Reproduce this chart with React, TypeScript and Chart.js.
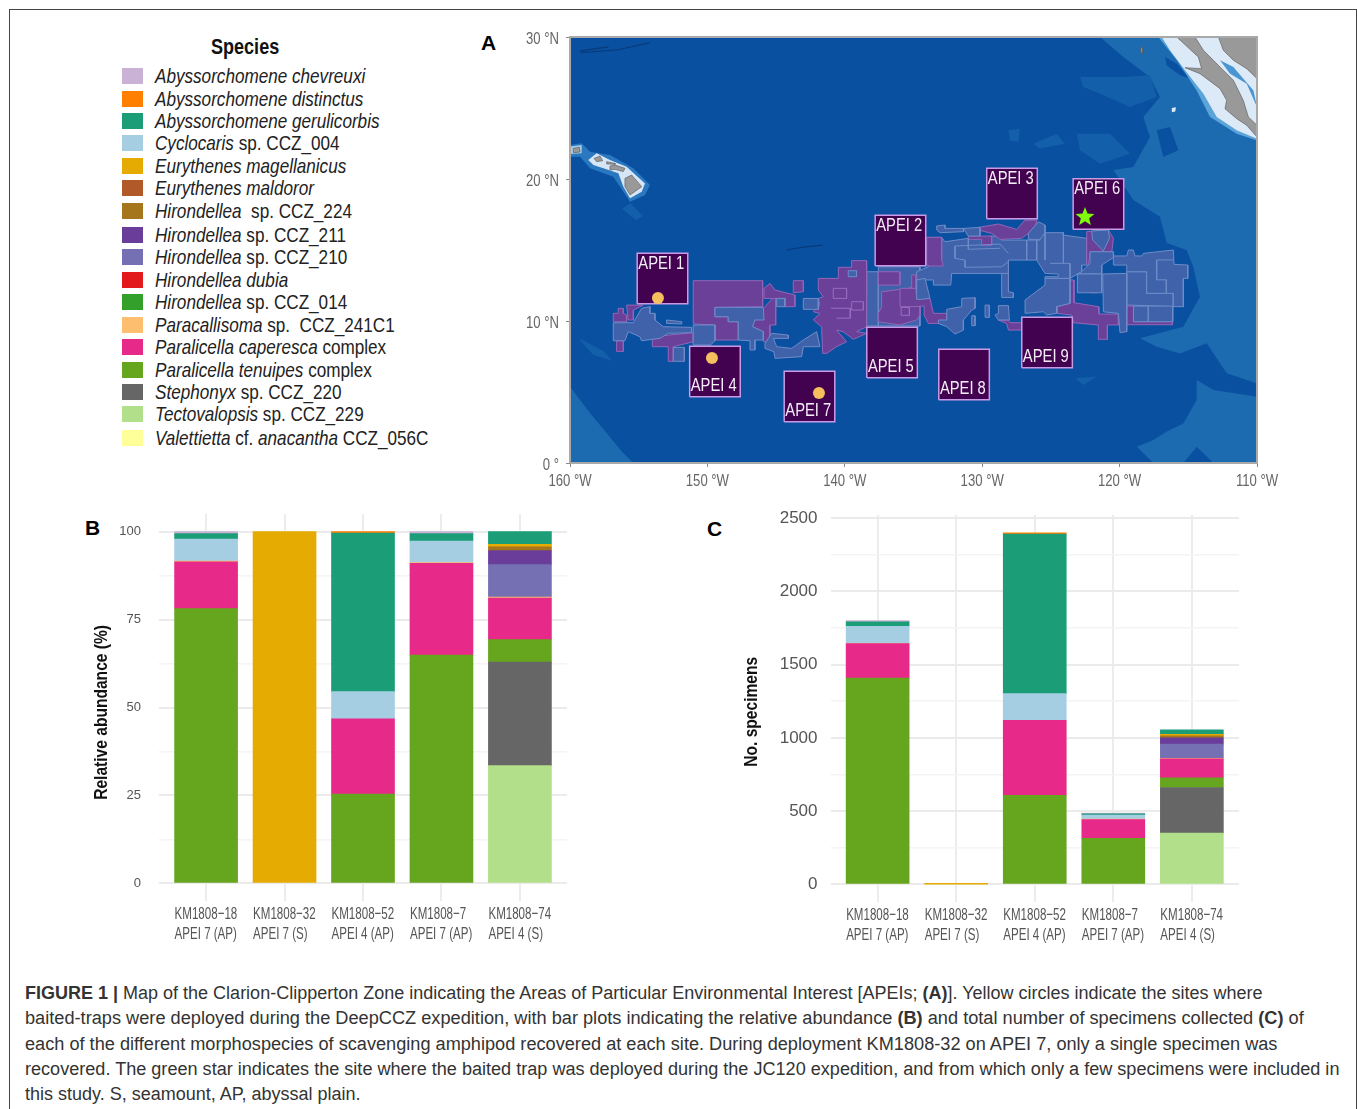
import React, { useEffect, useRef } from "react";
import { Chart, registerables } from "chart.js";

Chart.register(...registerables);

// ---------- shared text ----------
const NARROW = '"Liberation Sans Narrow", "Liberation Sans", Arial, sans-serif';
const SANS = '"Liberation Sans", Arial, sans-serif';
const NARROW_RATIO = 0.82;

const siteIds = ["KM1808\u221218", "KM1808\u221232", "KM1808\u221252", "KM1808\u22127", "KM1808\u221274"];
const siteAreas = ["APEI 7 (AP)", "APEI 7 (S)", "APEI 4 (AP)", "APEI 7 (AP)", "APEI 4 (S)"];

// ---------- bar values, one array per species, sites in order ----------
const relTecto = [0, 0, 0, 0, 33.5];
const relStephonyx = [0, 0, 0, 0, 29.4];
const relTenuipes = [78.1, 0, 25.4, 64.9, 6.4];
const relCaperesca = [13.3, 0, 21.4, 26.1, 11.8];
const relParacallisoma = [0.2, 0, 0, 0.2, 0.3];
const relH210 = [0, 0, 0, 0, 9.2];
const relH211 = [0, 0, 0, 0, 4.0];
const relH224 = [0, 0, 0, 0, 1.1];
const relMagellanicus = [0, 100, 0, 0, 0.7];
const relCyclocaris = [6.3, 0, 7.7, 6.1, 0];
const relGerulicorbis = [1.5, 0, 45.1, 2.1, 3.6];
const relDistinctus = [0, 0, 0.4, 0, 0];
const relChevreuxi = [0.6, 0, 0, 0.6, 0];

const numTecto = [0, 0, 0, 0, 350];
const numStephonyx = [0, 0, 0, 0, 311];
const numTenuipes = [1407, 0, 607, 314, 66];
const numCaperesca = [236, 0, 513, 129, 130];
const numParacallisoma = [2, 0, 0, 2, 3];
const numH210 = [0, 0, 0, 0, 97];
const numH211 = [0, 0, 0, 0, 43];
const numH224 = [0, 0, 0, 0, 14];
const numMagellanicus = [0, 1, 0, 0, 9];
const numCyclocaris = [116, 0, 182, 28, 0];
const numGerulicorbis = [30, 0, 1087, 9, 32];
const numDistinctus = [0, 0, 9, 0, 0];
const numChevreuxi = [9, 0, 0, 5, 0];

const stackColors = ["#b2df8a", "#666666", "#66a61e", "#e7298a", "#fdbf6f", "#7570b3", "#6a3d9a", "#a6761d", "#e6ab02", "#a6cee3", "#1b9e77", "#ff7f00", "#cab2d6"];
const relStack = [relTecto, relStephonyx, relTenuipes, relCaperesca, relParacallisoma, relH210, relH211, relH224, relMagellanicus, relCyclocaris, relGerulicorbis, relDistinctus, relChevreuxi];
const numStack = [numTecto, numStephonyx, numTenuipes, numCaperesca, numParacallisoma, numH210, numH211, numH224, numMagellanicus, numCyclocaris, numGerulicorbis, numDistinctus, numChevreuxi];

// ---------- legend ----------
const legendColors = ["#cab2d6", "#ff7f00", "#1b9e77", "#a6cee3", "#e6ab02", "#b15928", "#a6761d", "#6a3d9a", "#7570b3", "#e31a1c", "#33a02c", "#fdbf6f", "#e7298a", "#66a61e", "#666666", "#b2df8a", "#ffff99"];
const legendItalic = ["Abyssorchomene chevreuxi", "Abyssorchomene distinctus", "Abyssorchomene gerulicorbis", "Cyclocaris", "Eurythenes magellanicus", "Eurythenes maldoror", "Hirondellea", "Hirondellea", "Hirondellea", "Hirondellea dubia", "Hirondellea", "Paracallisoma", "Paralicella caperesca", "Paralicella tenuipes", "Stephonyx", "Tectovalopsis", "Valettietta"];
const legendPlain = ["", "", "", " sp. CCZ_004", "", "", "  sp. CCZ_224", " sp. CCZ_211", " sp. CCZ_210", "", " sp. CCZ_014", " sp.  CCZ_241C1", " complex", " complex", " sp. CCZ_220", " sp. CCZ_229", " cf. "];
const legendRowY = [76, 98.5, 121, 143, 166, 188, 211, 235, 257, 280, 302, 325, 347, 370, 392, 414, 438];

// ---------- map: lon / lat outlines ----------
type Ring = number[][];
const midBlueEast: Ring = [[-121.42, 30], [-119.73, 28.59], [-117.79, 27.18], [-117.06, 25.77], [-118.27, 24.37], [-117.79, 22.96], [-119, 20.85], [-120.45, 20.63], [-119, 18.52], [-117.06, 17.35], [-116.57, 15.5], [-115.12, 15], [-114.63, 13.8], [-114.15, 11.7], [-115.36, 9.6], [-118.51, 8.78], [-117.3, 8.19], [-115.6, 7.72], [-113.66, 8.43], [-112.2, 6.32], [-110, 5.6], [-110, 30]];
const midBlueSouthEast: Ring = [[-118.75, 1.15], [-117.54, 1.62], [-116.57, 2.21], [-115.36, 2.79], [-114.39, 4.44], [-114.39, 5.85], [-113.17, 5.14], [-110, 4.67], [-110, 0], [-113.17, 0], [-114.39, 1.15], [-115.36, 0], [-117.54, 0]];
const midBlueSouthWest: Ring = [[-160, 5.39], [-158.74, 3.75], [-156.14, 0.7], [-155.39, 0], [-157.6, 0], [-160, 0]];
const midPatches: Ring[] = [
  [[-122.88, 27.18], [-119.73, 27.18], [-117.79, 27.3], [-117.3, 25.77], [-119.24, 25.07], [-121.42, 26.01], [-122.64, 26.48]],
  [[-126.28, 22.49], [-124.58, 23.19], [-123.97, 22.49], [-125.79, 22.14]],
  [[-123.12, 23.19], [-120.7, 23.19], [-119.24, 21.78], [-121.42, 21.08], [-122.88, 22.02]],
  [[-128.1, 23.43], [-127.25, 23.54], [-127.37, 22.6], [-127.97, 22.72]],
  [[-123.24, 5.97], [-121.66, 6.09], [-122.63, 5.5]],
  [[-159.4, 8.8], [-157.6, 7.9], [-156.9, 7.2], [-158.3, 7.6]],
  [[-155.6, 18.3], [-154.7, 17.4], [-155.2, 17.1], [-156.2, 17.9]],
];
const deepPatches: Ring[] = [
  [[-117.3, 23.43], [-116.33, 23.66], [-115.72, 22.02], [-116.82, 21.55]],
  [[-116.69, 28.59], [-115.84, 28.12], [-114.87, 27.07], [-115.6, 27.3], [-116.57, 28.0]],
];
const midBlueHawaii: Ring = [[-160, 22.39], [-159.15, 22.51], [-158.54, 21.92], [-157.09, 21.69], [-155.39, 20.75], [-154.18, 19.58], [-154.54, 18.87], [-155.63, 18.4], [-156.36, 19.46], [-156.85, 20.16], [-158.54, 20.75], [-159.27, 21.57], [-160, 21.57]];
const paleHawaii: Ring = [[-158.67, 21.34], [-158.06, 21.81], [-157.09, 21.34], [-155.88, 20.87], [-154.54, 19.69], [-154.78, 19.11], [-155.63, 18.64], [-156.12, 19.46], [-156.48, 20.4], [-157.57, 20.75], [-158.3, 20.98]];
const paleKauai: Ring = [[-160, 22.28], [-159.15, 22.39], [-159.15, 21.81], [-160, 21.76]];
const landBigIsland: Ring = [[-156, 20.05], [-155.51, 20.28], [-154.78, 19.46], [-155.63, 18.87], [-156, 19.46]];
const landMaui: Ring = [[-156.72, 20.98], [-156, 20.75], [-156.12, 20.52], [-156.72, 20.68], [-157.09, 20.63], [-157.09, 20.91]];
const landMolokai: Ring = [[-157.33, 21.22], [-156.72, 21.1], [-156.72, 21.03], [-157.33, 21.06]];
const landOahu: Ring = [[-158.25, 21.45], [-157.82, 21.62], [-157.62, 21.29], [-158.06, 21.22]];
const landKauai: Ring = [[-159.76, 22.16], [-159.32, 22.23], [-159.27, 21.9], [-159.71, 21.85]];
const lightBaja: Ring = [[-117.18, 30], [-115.84, 28.36], [-114.39, 26.24], [-113.42, 24.37], [-111.48, 23.19], [-110, 22.72], [-110, 30]];
const paleBaja: Ring = [[-116.94, 30], [-116.33, 29.06], [-115.24, 27.65], [-113.9, 26], [-112.93, 24.37], [-111.48, 23.43], [-110, 22.84], [-110, 30]];
const gulfBlue: Ring = [[-112.69, 28.36], [-111.72, 27.89], [-110.26, 26.24], [-110, 25.07], [-110.75, 26.71], [-111.96, 27.42]];
const landBaja: Ring = [[-115.84, 30], [-114.27, 28.59], [-114.03, 27.77], [-115.24, 27.84], [-114.15, 27.42], [-112.69, 26.36], [-112.21, 25.54], [-112.33, 24.95], [-111.48, 24.25], [-110.75, 23.78], [-110, 22.96], [-110, 23.78], [-110.63, 24.37], [-111, 25.54], [-111.72, 26.95], [-112.69, 27.89], [-113.9, 29.06], [-114.51, 30]];
const landMexico: Ring = [[-112.81, 30], [-110, 30], [-110, 27.07], [-110.75, 27.77], [-111.72, 28.36], [-112.45, 29.06]];
const isletNorth: Ring = [[-118.45, 29.3], [-118.3, 29.25], [-118.3, 28.85], [-118.45, 28.9]];
const isletSouth: Ring = [[-116.2, 25], [-115.9, 25.05], [-115.95, 24.75], [-116.2, 24.7]];

const purpleAreas: Ring[] = [
  [[-151.03, 12.84], [-145.98, 12.84], [-145.98, 11.01], [-149.45, 10.96], [-149.45, 10.3], [-148.48, 10.3], [-148.48, 9.95], [-147.75, 9.95], [-147.75, 8.66], [-149.45, 8.66], [-149.45, 9.72], [-151.03, 9.79]],
  [[-146.71, 9.95], [-145.81, 11.01], [-145.03, 11.83], [-145.03, 9.72], [-145.45, 9.72], [-145.45, 8.54], [-145.93, 8.54], [-145.93, 9.25], [-146.71, 9.6]],
  [[-145.88, 12.3], [-145.45, 12.65], [-145.08, 12.18], [-144.6, 12.06], [-143.63, 11.83], [-143.63, 11.01], [-144.36, 11.01], [-144.36, 11.59], [-145.81, 11.59]],
  [[-154.01, 8.89], [-151.03, 9.18], [-151.03, 8.54], [-152.48, 8.19], [-152.48, 7.16], [-152.85, 7.16], [-152.85, 8.19], [-154.01, 8.19]],
  [[-156.85, 10.54], [-156.49, 10.54], [-156.49, 10.89], [-156.12, 10.89], [-156.12, 10.54], [-155.88, 10.42], [-155.88, 9.95], [-156.85, 9.95]],
  [[-155.88, 11.12], [-154.67, 11.12], [-155.39, 10.77], [-155.39, 10.07], [-155.76, 10.07]],
  [[-156.61, 8.61], [-156.12, 8.61], [-156.12, 7.86], [-156.61, 7.86]],
  [[-143.75, 12.84], [-143.02, 12.84], [-143.02, 12.06], [-143.75, 11.99]],
  [[-141.93, 13.0], [-140.47, 13.0], [-140.47, 13.78], [-139.5, 13.78], [-139.5, 14.25], [-138.41, 14.25], [-138.41, 9.6], [-139.14, 9.25], [-138.41, 9.13], [-139.38, 8.71], [-140.11, 9.25], [-140.6, 9.36], [-139.87, 8.54], [-140.6, 8.19], [-141.32, 7.72], [-141.61, 7.72], [-141.69, 9.6], [-142.29, 10.07], [-141.81, 10.54], [-142.29, 10.65], [-141.81, 11.12], [-141.93, 11.59], [-141.57, 11.71], [-141.93, 12.18]],
  [[-137.56, 13.47], [-135.99, 13.47], [-135.99, 12.53], [-137.56, 12.53]],
  [[-137.32, 12.06], [-135.38, 12.3], [-134.89, 12.53], [-134.53, 12.18], [-134.53, 10.42], [-134.77, 10.07], [-135.99, 9.72], [-137.56, 9.95], [-137.56, 10.54], [-137.32, 11.01]],
  [[-135.98, 12.3], [-134.82, 12.3], [-134.77, 11.59], [-133.8, 11.59], [-133.55, 10.54], [-132.58, 10.54], [-132.58, 9.83], [-133.92, 9.83], [-134.23, 10.42], [-134.23, 11.05], [-135.01, 11.01], [-135.98, 11.01]],
  [[-135.13, 13.24], [-134.82, 13.24], [-134.82, 12.3], [-135.13, 12.3]],
  [[-130.28, 16.59], [-128.82, 16.83], [-127.49, 16.45], [-126.88, 17.11], [-126.03, 17.11], [-126.15, 16.52], [-127.13, 15.82], [-128.7, 15.75], [-129.31, 16.17], [-130.28, 16.41]],
  [[-131.01, 15.98], [-129.31, 15.98], [-129.31, 15.33], [-130.04, 15.33], [-130.04, 15.75], [-131.01, 15.75]],
  [[-122.39, 16.29], [-120.82, 16.41], [-120.45, 15.82], [-120.57, 14.88], [-122.15, 14.88], [-122.27, 13.94], [-122.39, 13.94]],
  [[-123, 12.84], [-122.15, 12.84], [-121.67, 12.53], [-121.67, 11.99], [-122.15, 11.99], [-122.15, 12.53], [-123, 12.53]],
  [[-123.61, 12.89], [-123.32, 12.89], [-123.32, 11.29], [-121.55, 11.01], [-121.5, 10.49], [-120.09, 10.49], [-120.09, 9.72], [-120.89, 9.72], [-120.89, 8.71], [-121.5, 8.71], [-121.55, 9.72], [-123.36, 9.88], [-123.49, 10.42], [-124.53, 10.54], [-124.53, 11.01], [-123.61, 11.24]],
  [[-119.48, 11.05], [-118.99, 11.05], [-118.99, 9.95], [-116.16, 9.95], [-116.16, 9.74], [-119.48, 9.74]],
  [[-134.04, 15.89], [-132.95, 15.89], [-132.95, 14.29], [-132.83, 13.87], [-133.8, 13.87], [-134.04, 13.94]],
  [[-128.82, 10.07], [-128.09, 10.07], [-127.97, 9.88], [-127.13, 9.88], [-127.13, 9.36], [-128.09, 9.36], [-128.22, 9.83]],
];

const blueUnderPurple: Ring[] = [
  [[-137.56, 13.82], [-134.53, 13.82], [-134.53, 9.65], [-137.56, 9.65]],
  [[-138.41, 13.47], [-137.56, 13.47], [-137.56, 9.65], [-138.65, 9.65], [-138.41, 11.71]],
  [[-134.04, 15.89], [-132.95, 15.89], [-132.71, 15.58], [-131.01, 15.82], [-129.31, 15.98], [-128.58, 15.98], [-128.58, 15.7], [-125.79, 15.7], [-125.79, 16.22], [-124.09, 16.22], [-124.09, 16.05], [-122.39, 15.82], [-122.39, 13.94], [-122.76, 13.94], [-122.76, 13.47], [-123.61, 13], [-125.43, 13], [-125.43, 13.12], [-124.46, 13.12], [-124.46, 13.31], [-125.43, 13.35], [-126.03, 14.29], [-128.09, 14.29], [-128.09, 13.35], [-132.22, 13.35], [-132.29, 12.53], [-133.55, 12.53], [-133.55, 12.89], [-134.77, 12.89], [-134.77, 13.47], [-133.92, 13.82]],
  [[-119.48, 13.47], [-118.03, 13.47], [-118.03, 11.95], [-116.09, 11.95], [-116.09, 11.01], [-119.48, 11.13]],
];

const blueAreas: Ring[] = [
  [[-122.03, 16.34], [-120.82, 16.41], [-120.74, 15.82], [-121.18, 14.93], [-121.96, 15.7]],
  [[-149.45, 10.96], [-145.93, 10.96], [-145.88, 10.07], [-146.54, 10.07], [-146.71, 9.6], [-145.93, 9.25], [-145.93, 8.66], [-146.54, 8.66], [-146.54, 7.96], [-146.9, 7.96], [-146.9, 8.61], [-147.75, 8.66], [-147.75, 9.95], [-148.48, 9.95], [-148.48, 10.3], [-149.45, 10.3]],
  [[-151.03, 9.72], [-149.45, 9.72], [-149.45, 8.61], [-149.77, 8.31], [-151.03, 8.31]],
  [[-152.48, 8.14], [-151.68, 8.14], [-151.68, 7.16], [-152.48, 7.16]],
  [[-156.85, 9.88], [-155.39, 9.88], [-154.79, 10.89], [-154.18, 11.01], [-154.18, 10.54], [-153.82, 10.54], [-153.82, 10.07], [-153.21, 9.6], [-151.15, 9.55], [-151.15, 9.18], [-152.85, 9.13], [-153.45, 8.78], [-154.79, 8.61], [-154.91, 8.89], [-155.76, 9.25], [-156, 8.61], [-156.85, 8.61]],
  [[-152.97, 10.07], [-151.88, 9.95], [-151.88, 9.79], [-152.97, 9.83]],
  [[-144.96, 11.59], [-144.36, 11.59], [-144.36, 11.01], [-144.96, 11.01]],
  [[-145.81, 8.43], [-145.33, 9.13], [-144.11, 9.01], [-144.11, 8.78], [-145.2, 8.78], [-144.96, 8.19], [-143.87, 8.07], [-143.02, 8.66], [-142.05, 9.25], [-141.81, 8.19], [-143.02, 8.19], [-143.14, 7.49], [-145.08, 7.37], [-145.16, 7.84], [-145.81, 8.07]],
  [[-143.02, 11.59], [-141.93, 11.59], [-141.93, 10.82], [-143.02, 10.82]],
  [[-139.75, 13.54], [-139.15, 13.54], [-139.15, 13.12], [-139.75, 13.12]],
  [[-128.58, 13.35], [-128.09, 13.35], [-128.09, 12.06], [-127.73, 11.99], [-127.73, 11.66], [-128.58, 11.66]],
  [[-134.77, 12.89], [-134.16, 13], [-133.8, 11.59], [-134.52, 11.52], [-134.77, 11.52]],
  [[-133.31, 16.69], [-132.71, 16.76], [-132.71, 16.52], [-131.37, 16.52], [-131.37, 16.29], [-133.07, 16.22], [-133.31, 16.41]],
  [[-131.37, 16.52], [-130.16, 16.59], [-130.16, 15.98], [-131.01, 15.98]],
  [[-126.64, 16.17], [-125.91, 16.99], [-125.43, 16.76], [-125.43, 16.22], [-125.79, 15.75], [-126.64, 15.75]],
  [[-120.45, 14.58], [-119.48, 14.58], [-119.36, 15], [-119, 15], [-118.88, 14.58], [-118.39, 14.58], [-118.27, 14.76], [-116.09, 15], [-116.04, 13.99], [-115.04, 13.94], [-115.04, 13], [-115.36, 13], [-115.36, 11.01], [-116.09, 11.01], [-116.09, 11.95], [-118.03, 11.95], [-118.03, 13.47], [-119.48, 13.47], [-119.48, 13.94], [-120.45, 13.94]],
  [[-122.15, 14.88], [-120.45, 14.88], [-120.45, 14.47], [-121.3, 13.94], [-121.3, 13.31], [-123.07, 13.31], [-122.76, 13.47], [-122.15, 14.06]],
  [[-123.07, 13.31], [-121.3, 13.31], [-121.3, 11.99], [-123.07, 11.99]],
  [[-121.23, 13.31], [-119.48, 13.35], [-119.48, 9.25], [-119.97, 9.18], [-120.09, 10.54], [-121.18, 10.65]],
  [[-126.88, 11.48], [-125.43, 12.53], [-125.43, 13], [-123.61, 13], [-123.61, 11.24], [-124.58, 11.01], [-124.58, 10.54], [-125.31, 10.42], [-125.55, 10.65], [-126.88, 10.54]],
  [[-118.99, 11.05], [-117.91, 11.05], [-117.91, 9.95], [-118.99, 9.95]],
  [[-117.91, 11.05], [-116.13, 11.05], [-116.13, 9.95], [-117.91, 9.95]],
  [[-132.58, 10.82], [-131.49, 11.01], [-131.49, 11.59], [-130.52, 11.64], [-130.52, 10.89], [-130.76, 10.77], [-131.37, 10.07], [-131.37, 9.36], [-131.98, 9.08], [-132.58, 9.6], [-133.19, 9.83], [-133.19, 10.07], [-132.58, 10.07]],
  [[-129.79, 11.12], [-129.5, 11.12], [-129.48, 10.26], [-129.79, 10.26]],
  [[-130.76, 10.37], [-130.52, 10.37], [-130.52, 9.67], [-130.76, 9.67]],
  [[-128.82, 11.08], [-128.09, 11.08], [-128.02, 10.07], [-128.82, 10.07], [-129.07, 10.42], [-128.82, 10.54]],
];

const boundaryLines: Ring[] = [
  [[-126.76, 15.7], [-126.76, 14.29]],
  [[-126.03, 15.7], [-126.03, 14.29]],
  [[-125.43, 16.22], [-125.43, 14.29]],
  [[-124.09, 16.22], [-124.09, 14.06]],
  [[-125.06, 14.06], [-123.61, 14.06], [-123.61, 13]],
  [[-131.98, 15.28], [-128.7, 15.42], [-128.09, 14.76]],
  [[-131.98, 15.28], [-131.98, 14.41], [-131.25, 14.29], [-131.25, 13.78], [-128.58, 13.82], [-128.09, 14.18]],
  [[-131.01, 15.82], [-131.01, 15.05], [-128.7, 15.12]],
  [[-117.3, 14.3], [-117.3, 12.9], [-116.6, 12.9], [-116.6, 11.95]],
  [[-117.3, 14.3], [-116.09, 14.3]],
];
const innerOutlines: Ring[] = [
  [[-140.84, 12.3], [-139.87, 12.3], [-139.87, 11.59], [-140.84, 11.59], [-140.84, 12.3]],
  [[-139.5, 11.36], [-138.65, 11.36], [-138.65, 10.77], [-139.5, 10.77], [-139.5, 11.36]],
  [[-141, 10.9], [-139.6, 10.9], [-139.6, 10.2], [-140.6, 10.2]],
  [[-135.9, 10.95], [-135.3, 10.95], [-135.3, 10.4], [-135.9, 10.4], [-135.9, 10.95]],
];
const seamountChains: Ring[] = [
  [[-159.3, 29.0], [-158, 29.2], [-157.2, 29.3]],
  [[-159.2, 28.9], [-156.5, 29.1], [-154.2, 29.6]],
  [[-144.25, 15.0], [-143, 15.2], [-141.65, 15.35]],
];

const apeiNames = ["APEI 1", "APEI 2", "APEI 3", "APEI 4", "APEI 5", "APEI 6", "APEI 7", "APEI 8", "APEI 9"];
const apeiLon = [-153.27, -135.95, -127.83, -149.45, -136.56, -121.54, -142.57, -131.32, -125.28];
const apeiLat = [12.99, 15.67, 18.98, 6.44, 7.78, 18.24, 4.68, 6.23, 8.49];
const apeiLabelLat = [14.02, 16.7, 20.0, 5.42, 6.76, 19.3, 3.66, 5.21, 7.47];
const apeiHalfLon = 1.84;
const apeiHalfLat = 1.78;

const siteLon = [-153.6, -149.67, -141.88];
const siteLat = [11.62, 7.4, 4.93];
const starLon = [-122.52];
const starLat = [17.32];

const mapLonTicks = [-160, -150, -140, -130, -120, -110];
const mapLatTicks = [0, 10, 20, 30];

const toPts = (r: Ring) => r.map(([x, y]) => ({ x, y }));
const closed = (r: Ring) => [...toPts(r), { x: r[0][0], y: r[0][1] }];

function area(r: Ring, fill: string, stroke: string | null = null, width = 1) {
  return { data: closed(r), showLine: true, fill: "shape", tension: 0, backgroundColor: fill, borderColor: stroke ?? fill, borderWidth: stroke ? width : 0, pointRadius: 0, pointHoverRadius: 0 };
}
function path(r: Ring, stroke: string, width = 1) {
  return { data: toPts(r), showLine: true, fill: false, tension: 0, borderColor: stroke, borderWidth: width, pointRadius: 0, pointHoverRadius: 0 };
}

function starImage(size: number, color: string) {
  const c = document.createElement("canvas");
  c.width = size;
  c.height = size;
  const g = c.getContext("2d")!;
  g.fillStyle = color;
  g.beginPath();
  for (let i = 0; i < 10; i++) {
    const r = i % 2 === 0 ? size / 2 : size / 4.6;
    const a = -Math.PI / 2 + (i * Math.PI) / 5;
    g.lineTo(size / 2 + r * Math.cos(a), size / 2 + r * Math.sin(a));
  }
  g.closePath();
  g.fill();
  return c;
}

// The narrow face of the original is not installed: text asking for it is condensed along its own baseline.
function narrowText(titleShift = 0, plainRatio = NARROW_RATIO, rightNudge = 0) {
  return {
    id: "narrowText",
    beforeDraw(chart: any) {
      const ctx = chart.ctx;
      if (ctx.__narrow) return;
      ctx.__narrow = true;
      const draw = ctx.fillText.bind(ctx);
      ctx.fillText = (t: string, x: number, y: number, m?: number) => {
        if (String(ctx.font).includes("Narrow")) {
          const bold = String(ctx.font).includes("bold");
          ctx.save();
          ctx.translate(x, y + (ctx.textAlign === "right" ? rightNudge : 0));
          ctx.scale(bold ? NARROW_RATIO : plainRatio, 1);
          draw(t, bold ? titleShift : 0, 0);
          ctx.restore();
        } else {
          draw(t, x, y, m);
        }
      };
    },
  };
}

const apeiLabelPlugin = {
  id: "apeiLabels",
  afterDatasetsDraw(chart: any) {
    const { ctx, scales } = chart;
    ctx.save();
    ctx.fillStyle = "#f4eef8";
    ctx.font = `18px ${NARROW}`;
    ctx.textAlign = "left";
    ctx.textBaseline = "middle";
    apeiNames.forEach((n, i) => {
      ctx.fillText(n, scales.x.getPixelForValue(apeiLon[i] - apeiHalfLon + 0.08), scales.y.getPixelForValue(apeiLabelLat[i]));
    });
    ctx.restore();
  },
};

const noPadding = (s: any) => {
  s.paddingLeft = 0;
  s.paddingRight = 0;
  s.paddingTop = 0;
  s.paddingBottom = 0;
};

function makeMap(canvas: HTMLCanvasElement) {
  const deep = "#0a50a0";
  const mid = "#1c6bb1";
  const speckle = "#145fa9";
  const PURPLE = "#6b4098";
  const PURPLE_LINE = "#9266b8";
  const BLUE = "#3f62aa";
  const BLUE_LINE = "#6f8cc8";
  const INK = "#43024f";
  const INK_LINE = "#c99be6";
  const LAND = "#999999";
  const apeiRings: Ring[] = apeiLon.map((lon, i) => [
    [lon - apeiHalfLon, apeiLat[i] - apeiHalfLat],
    [lon + apeiHalfLon, apeiLat[i] - apeiHalfLat],
    [lon + apeiHalfLon, apeiLat[i] + apeiHalfLat],
    [lon - apeiHalfLon, apeiLat[i] + apeiHalfLat],
  ]);
  const frame: Ring = [[-160, 0], [-110, 0], [-110, 30], [-160, 30]];
  // listed bottom layer first
  const layers: any[] = [
    area(frame, deep),
    area(midBlueEast, mid),
    area(midBlueSouthEast, mid),
    area(midBlueSouthWest, mid),
    ...midPatches.map((r) => area(r, speckle)),
    ...deepPatches.map((r) => area(r, deep)),
    area(midBlueHawaii, "#2a78bf"),
    area(paleHawaii, "#d6e6f6"),
    area(paleKauai, "#a9cbea"),
    area(lightBaja, "#5aa4da"),
    area(paleBaja, "#dce9f7"),
    area(gulfBlue, "#4a96d2"),
    area(isletSouth, "#dce9f7"),
    ...[landBigIsland, landMaui, landMolokai, landOahu, landKauai, landBaja, landMexico, isletNorth].map((r) => area(r, LAND, "#555555", 0.6)),
    ...seamountChains.map((r) => path(r, "#083a7a", 1.2)),
    ...blueUnderPurple.map((r) => area(r, BLUE, BLUE_LINE)),
    ...purpleAreas.map((r) => area(r, PURPLE, PURPLE_LINE)),
    ...blueAreas.map((r) => area(r, BLUE, BLUE_LINE)),
    ...boundaryLines.map((r) => path(r, BLUE_LINE)),
    ...innerOutlines.map((r) => path(r, "#9a6cbf")),
    ...apeiRings.map((r) => area(r, INK, INK_LINE, 1.5)),
    { data: siteLon.map((x, i) => ({ x, y: siteLat[i] })), pointStyle: "circle", pointRadius: 6, backgroundColor: "#f6bf5e", borderWidth: 0, showLine: false },
    { data: starLon.map((x, i) => ({ x, y: starLat[i] })), pointStyle: starImage(20, "#7dfb0a"), pointRadius: 10, showLine: false },
    { ...path([...frame, frame[0]], "#a9a9a9", 2), clip: false },
  ];
  return new Chart(canvas, {
    type: "scatter",
    data: { datasets: layers.slice().reverse() },
    plugins: [narrowText(0, NARROW_RATIO, 2.5), apeiLabelPlugin],
    options: {
      animation: false,
      responsive: false,
      layout: { padding: { top: 12, right: 33, left: 0, bottom: 0 } },
      plugins: { legend: { display: false }, tooltip: { enabled: false } },
      scales: {
        x: {
          type: "linear", min: -160, max: -110,
          afterFit: (s: any) => { s.height = 32; noPadding(s); },
          afterBuildTicks: (s: any) => { s.ticks = mapLonTicks.map((value) => ({ value })); },
          grid: { display: true, drawOnChartArea: false, tickLength: 4, color: "#888" },
          border: { display: false },
          ticks: { color: "#666", font: { family: NARROW, size: 16 }, padding: 5, maxRotation: 0, autoSkip: false, callback: (v: any) => `${Math.abs(v)} \u00b0W` },
        },
        y: {
          type: "linear", min: 0, max: 30,
          afterFit: (s: any) => { s.width = 60; noPadding(s); },
          afterBuildTicks: (s: any) => { s.ticks = mapLatTicks.map((value) => ({ value })); },
          grid: { display: true, drawOnChartArea: false, tickLength: 4, color: "#888" },
          border: { display: false },
          ticks: { color: "#666", font: { family: NARROW, size: 16 }, padding: 7, autoSkip: false, callback: (v: any) => (v === 0 ? "0 \u00b0" : `${v} \u00b0N`) },
        },
      },
    },
  } as any);
}

function makeBars(canvas: HTMLCanvasElement, cfg: any) {
  const isMajor = (v: number) => Math.abs(v % cfg.major) < 1e-6;
  return new Chart(canvas, {
    type: "bar",
    data: {
      datasets: cfg.stack.map((vals: number[], k: number) => ({
        data: vals.map((y, x) => ({ x, y })).filter((p) => p.y !== 0),
        backgroundColor: stackColors[k],
        borderWidth: 0,
        barThickness: 63,
      })),
    },
    plugins: [narrowText(cfg.titleShift, 0.68)],
    options: {
      animation: false,
      responsive: false,
      layout: { padding: cfg.padding },
      plugins: { legend: { display: false }, tooltip: { enabled: false } },
      scales: {
        x: {
          type: "linear", min: -0.6, max: 4.6, stacked: true, offset: false,
          afterFit: (s: any) => { s.height = cfg.xHeight; noPadding(s); },
          grid: { color: "#ececec", lineWidth: 2, drawTicks: false, offset: false },
          border: { display: false },
          ticks: {
            stepSize: 1, includeBounds: false, autoSkip: false, maxRotation: 0, align: "start", labelOffset: -31.5, padding: cfg.xPad,
            color: "#555", font: { family: NARROW, size: 17, lineHeight: 1.2 },
            callback: (v: any) => [siteIds[v], siteAreas[v]],
          },
        },
        y: {
          type: "linear", min: cfg.min, max: cfg.max, stacked: true,
          afterFit: (s: any) => { s.width = cfg.yWidth; noPadding(s); },
          grid: {
            drawTicks: false,
            color: (c: any) => (isMajor(c.tick.value) ? "#ebebeb" : "#f4f4f4"),
            lineWidth: (c: any) => (isMajor(c.tick.value) ? 2 : 1.5),
          },
          border: { display: false },
          title: { display: true, text: cfg.title, color: "#111", font: { family: NARROW, size: 19, weight: "bold" }, padding: cfg.titlePad },
          ticks: {
            stepSize: cfg.minor, includeBounds: false, autoSkip: false, padding: cfg.yPad,
            color: "#555", font: { family: SANS, size: cfg.tickSize },
            callback: (v: any) => (isMajor(v) ? String(v) : ""),
          },
        },
      },
    },
  } as any);
}

const abs = (left: number, top: number): React.CSSProperties => ({ position: "absolute", left, top, whiteSpace: "pre", margin: 0 });

const captionTop = [982, 1007, 1033, 1058, 1083];
const captionStretch = [1, 1.0103, 1.0089, 1.0046, 1];

export default function App() {
  const mapRef = useRef<HTMLCanvasElement>(null);
  const bRef = useRef<HTMLCanvasElement>(null);
  const cRef = useRef<HTMLCanvasElement>(null);

  useEffect(() => {
    const charts = [
      makeMap(mapRef.current!),
      makeBars(bRef.current!, { stack: relStack, min: -5, max: 105, major: 25, minor: 12.5, title: "Relative abundance (%)", padding: { top: 9, right: 8 }, xHeight: 54, yWidth: 79, xPad: 3, yPad: 18, tickSize: 13, titlePad: { top: 10, bottom: 0 }, titleShift: -6 }),
      makeBars(cRef.current!, { stack: numStack, min: -120, max: 2520, major: 500, minor: 250, title: "No. specimens", padding: { top: 10, right: 8 }, xHeight: 55, yWidth: 130.5, xPad: 3, yPad: 13, tickSize: 17, titlePad: { top: 40, bottom: 0 }, titleShift: -4 }),
    ];
    return () => charts.forEach((c) => c.destroy());
  }, []);

  const capStyle = (i: number): React.CSSProperties => ({ ...abs(25, captionTop[i]), fontFamily: SANS, fontSize: 18, color: "#333", lineHeight: "22px", transform: `scaleX(${captionStretch[i]})`, transformOrigin: "0 0" });

  return (
    <div style={{ fontFamily: NARROW }}>
      <div style={{ position: "absolute", left: 9, top: 9, width: 1348, height: 1100, borderLeft: "1px solid #444", borderRight: "1px solid #444", borderTop: "1px solid #444", boxSizing: "border-box" }} />

      <div style={{ ...abs(211, 34), fontFamily: SANS, fontWeight: 700, fontSize: 22, color: "#111", transform: `scaleX(${NARROW_RATIO})`, transformOrigin: "0 0" }}>Species</div>
      {legendColors.map((c, i) => (
        <React.Fragment key={i}>
          <div style={{ position: "absolute", left: 121.5, top: legendRowY[i] - 8, width: 21.5, height: 16, background: c }} />
          <div style={{ ...abs(155, legendRowY[i] - 12), fontFamily: SANS, fontSize: 21, lineHeight: "24px", color: "#222", transform: "scaleX(0.815)", transformOrigin: "0 0" }}>
            <i>{legendItalic[i]}</i>
            {legendPlain[i]}
            {i === 16 ? (<><i>anacantha</i> CCZ_056C</>) : null}
          </div>
        </React.Fragment>
      ))}

      <div style={{ ...abs(481, 31), fontFamily: SANS, fontWeight: 700, fontSize: 21, color: "#000" }}>A</div>
      <div style={{ ...abs(85, 516), fontFamily: SANS, fontWeight: 700, fontSize: 21, color: "#000" }}>B</div>
      <div style={{ ...abs(707, 517), fontFamily: SANS, fontWeight: 700, fontSize: 21, color: "#000" }}>C</div>

      <canvas ref={mapRef} width={780} height={470} style={{ position: "absolute", left: 510, top: 25 }} />
      <canvas ref={bRef} width={495} height={450} style={{ position: "absolute", left: 80, top: 505 }} />
      <canvas ref={cRef} width={547} height={452} style={{ position: "absolute", left: 700, top: 505 }} />

      <div style={capStyle(0)}><b>FIGURE 1 |</b> Map of the Clarion-Clipperton Zone indicating the Areas of Particular Environmental Interest [APEIs; <b>(A)</b>]. Yellow circles indicate the sites where</div>
      <div style={capStyle(1)}>baited-traps were deployed during the DeepCCZ expedition, with bar plots indicating the relative abundance <b>(B)</b> and total number of specimens collected <b>(C)</b> of</div>
      <div style={capStyle(2)}>each of the different morphospecies of scavenging amphipod recovered at each site. During deployment KM1808-32 on APEI 7, only a single specimen was</div>
      <div style={capStyle(3)}>recovered. The green star indicates the site where the baited trap was deployed during the JC120 expedition, and from which only a few specimens were included in</div>
      <div style={capStyle(4)}>this study. S, seamount, AP, abyssal plain.</div>
    </div>
  );
}
